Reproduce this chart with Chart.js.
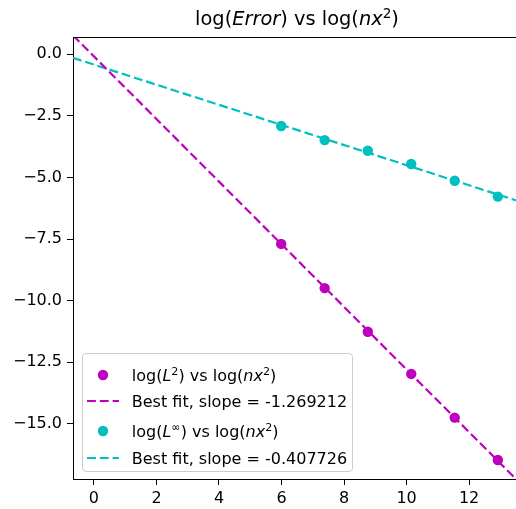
<!DOCTYPE html>
<html>
<head>
<meta charset="utf-8">
<script src="https://cdn.jsdelivr.net/npm/chart.js@4/dist/chart.umd.min.js"></script>
<style>
  html, body { margin: 0; padding: 0; background: #fff; }
  body { width: 516px; height: 509px; overflow: hidden; position: relative; }
  #wrap { position: relative; width: 524px; height: 509px; }
  #c { position: absolute; left: 0; top: 0; }
  #title {
    position: absolute; left: 0; top: 8px; width: 594px; text-align: center;
    font-family: "DejaVu Sans", sans-serif; font-size: 19.4px; line-height: 22px; color: #000;
  }
  sup { font-size: 70%; vertical-align: 0.55em; line-height: 0; }
  #legend {
    position: absolute; left: 82px; top: 353px; width: 271px; height: 119px;
    box-sizing: border-box; border: 1px solid #cccccc; border-radius: 4px;
    background: rgba(255,255,255,0.8);
    font-family: "DejaVu Sans", sans-serif; font-size: 16px; color: #000;
  }
  .row { position: absolute; left: 4px; height: 26px; display: flex; align-items: center; white-space: nowrap; }
  .row svg { display: block; flex: none; }
  .row span { margin-left: 12.8px; }
</style>
</head>
<body>
<div id="wrap">
  <canvas id="c" width="524" height="509"></canvas>
  <div id="title">log(<i>Error</i>) vs log(<i>nx</i><sup>2</sup>)</div>
  <div id="legend"></div>
</div>
<script>
// log(n x^2) for the six grid sizes
const logNx2 = [5.99, 7.38, 8.76, 10.15, 11.54, 12.92];
// log of the L2 and L-infinity errors
const logL2 = [-7.70, -9.49, -11.26, -12.97, -14.74, -16.46];
const logLinf = [-2.92, -3.49, -3.92, -4.46, -5.14, -5.78];
// least-squares fits: slope and intercept
const fitSlopes = [-1.269212, -0.407726];
const fitIntercepts = [-0.097, -0.429];
// axis ticks and limits
const xTicks = [0, 2, 4, 6, 8, 10, 12];
const yTicks = [0, -2.5, -5, -7.5, -10, -12.5, -15];
const xLimits = [-0.67, 13.59];
const yLimits = [-17.23, 0.69];
// legend text (mathtext style)
const legendLabels = [
  'log(<i>L</i><sup>2</sup>) vs log(<i>nx</i><sup>2</sup>)',
  'Best fit, slope = ' + fitSlopes[0].toFixed(6),
  'log(<i>L</i><sup>\u221e</sup>) vs log(<i>nx</i><sup>2</sup>)',
  'Best fit, slope = ' + fitSlopes[1].toFixed(6)
];
const legendRowCenters = [21, 47, 77, 104];

const MAGENTA = '#bf00bf';
const CYAN = '#00bfbf';
const FONT = 'DejaVu Sans';

function points(xs, ys) { return xs.map((x, i) => ({ x: x, y: ys[i] })); }
function fitLine(k) {
  return xLimits.map(x => ({ x: x, y: fitIntercepts[k] + fitSlopes[k] * x }));
}

const dashed = [8.9, 3.9];

const datasets = [
  { type: 'scatter', label: legendLabels[0], data: points(logNx2, logL2),
    backgroundColor: MAGENTA, borderWidth: 0, pointRadius: 5.2, pointHoverRadius: 5.2, order: 2 },
  { type: 'line', label: legendLabels[1], data: fitLine(0),
    borderColor: MAGENTA, borderWidth: 2.2, borderDash: dashed, pointRadius: 0, fill: false, clip: 0, order: 1 },
  { type: 'scatter', label: legendLabels[2], data: points(logNx2, logLinf),
    backgroundColor: CYAN, borderWidth: 0, pointRadius: 5.2, pointHoverRadius: 5.2, order: 2 },
  { type: 'line', label: legendLabels[3], data: fitLine(1),
    borderColor: CYAN, borderWidth: 2.2, borderDash: dashed, pointRadius: 0, fill: false, clip: 0, order: 1 }
];

// top and right spines of the axes box
const frame = {
  id: 'frame',
  afterDraw(chart) {
    const a = chart.chartArea, ctx = chart.ctx;
    ctx.save();
    ctx.strokeStyle = '#000';
    ctx.lineWidth = 1;
    ctx.beginPath();
    ctx.moveTo(Math.round(a.left) + 0.5, Math.round(a.top) + 0.5);
    ctx.lineTo(Math.round(a.right) + 0.5, Math.round(a.top) + 0.5);
    ctx.lineTo(Math.round(a.right) + 0.5, Math.round(a.bottom) + 0.5);
    ctx.stroke();
    ctx.restore();
  }
};

// legend built from the datasets
const htmlLegend = {
  id: 'htmlLegend',
  afterUpdate(chart) {
    const box = document.getElementById('legend');
    box.innerHTML = '';
    chart.data.datasets.forEach((ds, i) => {
      const row = document.createElement('div');
      row.className = 'row';
      row.style.top = (legendRowCenters[i] - 13) + 'px';
      let svg;
      if (ds.type === 'scatter') {
        svg = '<svg width="32" height="12"><circle cx="16" cy="6" r="5.2" fill="' + ds.backgroundColor + '"/></svg>';
      } else {
        svg = '<svg width="32" height="12"><line x1="0" y1="6" x2="32" y2="6" stroke="' + ds.borderColor +
              '" stroke-width="2.2" stroke-dasharray="' + dashed.join(' ') + '"/></svg>';
      }
      row.innerHTML = svg + '<span>' + ds.label + '</span>';
      box.appendChild(row);
    });
  }
};

const axisCommon = {
  type: 'linear',
  grid: { drawOnChartArea: false, drawTicks: true, tickLength: 6, color: '#000', lineWidth: 1 },
  border: { display: true, color: '#000', width: 1 },
};

new Chart(document.getElementById('c'), {
  data: { datasets: datasets },
  options: {
    responsive: false,
    animation: false,
    events: [],
    layout: { padding: { top: 37, right: 3, left: 0, bottom: 0 } },
    plugins: { legend: { display: false }, title: { display: false }, tooltip: { enabled: false } },
    scales: {
      x: Object.assign({}, axisCommon, {
        position: 'bottom',
        min: xLimits[0], max: xLimits[1],
        afterBuildTicks: s => { s.ticks = xTicks.map(v => ({ value: v })); },
        afterFit: s => { s.height = 30; },
        ticks: { font: { family: FONT, size: 16 }, color: '#000', padding: 4, maxRotation: 0, autoSkip: false,
                 callback: v => String(v) }
      }),
      y: Object.assign({}, axisCommon, {
        position: 'left',
        min: yLimits[0], max: yLimits[1],
        afterBuildTicks: s => { s.ticks = yTicks.map(v => ({ value: v })); },
        afterFit: s => { s.width = 73; },
        ticks: { font: { family: FONT, size: 16 }, color: '#000', padding: 5, autoSkip: false,
                 callback: v => (v < 0 ? '\u2212' : '') + Math.abs(v).toFixed(1) }
      })
    }
  },
  plugins: [frame, htmlLegend]
});
</script>
</body>
</html>
